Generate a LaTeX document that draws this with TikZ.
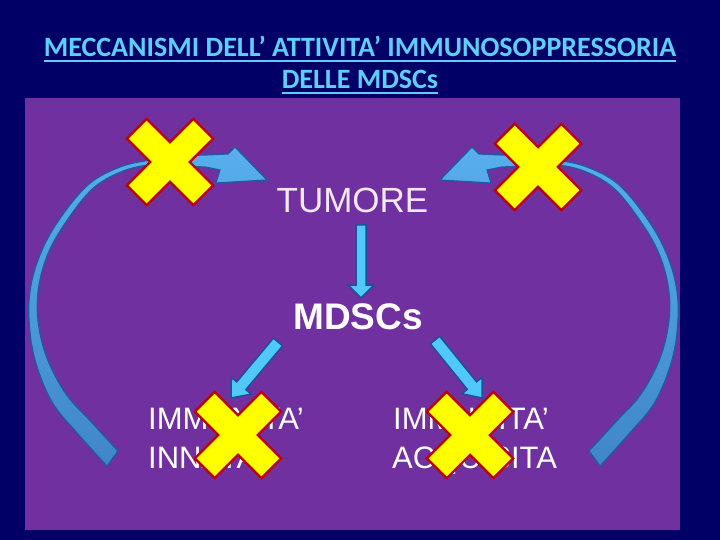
\documentclass[tikz,border=0pt]{standalone}
\usepackage{fontspec}
\setmainfont{Liberation Sans}
\newfontfamily\titlefont{Carlito}
\usetikzlibrary{calc}
\definecolor{navybg}{HTML}{000066}
\definecolor{panel}{HTML}{7030A0}
\definecolor{titlecol}{HTML}{5CD0FA}
\definecolor{arrfill}{HTML}{50C8F8}
\definecolor{arrline}{HTML}{1F4E9A}
\definecolor{curvetop}{HTML}{58AEEE}
\definecolor{curvebot}{HTML}{3F86C8}
\definecolor{curveline}{HTML}{1D5C9E}
\definecolor{xfill}{HTML}{FFFF00}
\definecolor{xline}{HTML}{C00000}
\definecolor{tumcol}{HTML}{F4E8F4}

\tikzset{
  arrowstyle/.style={fill=arrfill, draw=arrline, line width=1.5pt, line join=miter},
  crossstyle/.style={fill=xfill, draw=xline, line width=2.2pt, line join=miter},
  curvestyle/.style={draw=curveline, line width=1.2pt, top color=curvetop, bottom color=curvebot, line join=miter},
  titletext/.style={font=\titlefont\bfseries\fontsize{28}{34}\selectfont, text=titlecol, inner sep=0pt, anchor=base},
  titleline/.style={titlecol, line width=2pt},
  bodytext/.style={font=\fontsize{31}{39}\selectfont, text=white, inner sep=0pt, anchor=base west}
}

% block arrow from coordinate #1 to coordinate #2
\newcommand\blockarr[5]{%
  \coordinate (ba-h) at ($(#2)!#5!(#1)$);
  \filldraw[arrowstyle] ($(#1)!#3!90:(#2)$) -- ($(ba-h)!#3!-90:(#1)$) -- ($(ba-h)!#4!-90:(#1)$) -- (#2)
     -- ($(ba-h)!#4!90:(#1)$) -- ($(ba-h)!#3!90:(#1)$) -- ($(#1)!#3!-90:(#2)$) -- cycle;
}

\newcommand\mycross[1]{%
  \begin{scope}[shift={#1}, rotate=45]
    \filldraw[crossstyle] (47,14) -- (14,14) -- (14,47) -- (-14,47) -- (-14,14) -- (-47,14)
      -- (-47,-14) -- (-14,-14) -- (-14,-47) -- (14,-47) -- (14,-14) -- (47,-14) -- cycle;
  \end{scope}%
}

\newcommand\curvedarrow{%
  \path[curvestyle]
    plot[smooth, tension=0.6] coordinates {(107,466) (78,434) (52,402) (35,360) (29,320) (31,285) (42,250) (61,217) (89,184) (120,167) (150,160) (180,156) (205,155) (228,154)}
    -- (235,147) -- (267,180) -- (216,183) -- (220,170)
    -- plot[smooth, tension=0.6] coordinates {(205,167) (180,166) (151.5,164.8) (122.3,171.4) (92.8,188.6) (66.7,221) (48.4,252.8) (38.8,286.5) (38,320) (46.6,357) (66,394) (91,421.6) (118,451)}
    -- cycle;
}

\begin{document}
\begin{tikzpicture}[x=1pt, y=-1pt]
\useasboundingbox (0,0) rectangle (720,540);
\fill[navybg] (0,0) rectangle (720,540);
\fill[panel] (25,98) rectangle (680,530);

% title with underline
\node[titletext] (title1) at (360,57) {MECCANISMI DELL’ ATTIVITA’ IMMUNOSOPPRESSORIA};
\node[titletext] (title2) at (360,89) {DELLE MDSCs};
\draw[titleline] ($(title1.base west)+(0,4)$) -- ($(title1.base east)+(0,4)$);
\draw[titleline] ($(title2.base west)+(0,4)$) -- ($(title2.base east)+(0,4)$);

% curved arrows
\curvedarrow
\begin{scope}[shift={(707,0)}, xscale=-1]
  \curvedarrow
\end{scope}

% texts
\node[font=\fontsize{35}{42}\selectfont, text=tumcol, inner sep=0pt, anchor=base] (tumore) at (352.5,213) {TUMORE};
\node[font=\bfseries\fontsize{37}{44}\selectfont, text=white, inner sep=0pt, anchor=base] (mdscs) at (358,329) {MDSCs};
\node[bodytext] (inn1) at (148,429) {IMMUNITA’};
\node[bodytext] (inn2) at (148,468) {INNATA};
\node[bodytext] (acq1) at (393,429) {IMMUNITA’};
\node[bodytext] (acq2) at (392,468) {ACQUISITA};

% straight arrows
\coordinate (dA) at (361,225);
\coordinate (dB) at (361,298);
\blockarr{dA}{dB}{5pt}{13pt}{13pt}
\coordinate (lA) at (278,342);
\coordinate (lB) at (231,398);
\blockarr{lA}{lB}{6pt}{13pt}{16pt}
\coordinate (rA) at (435,340);
\coordinate (rB) at (482,398);
\blockarr{rA}{rB}{6pt}{13pt}{16pt}

% crosses
\mycross{(170,162)}
\mycross{(538,167)}
\mycross{(238,435)}
\mycross{(470,435)}
\end{tikzpicture}
\end{document}
